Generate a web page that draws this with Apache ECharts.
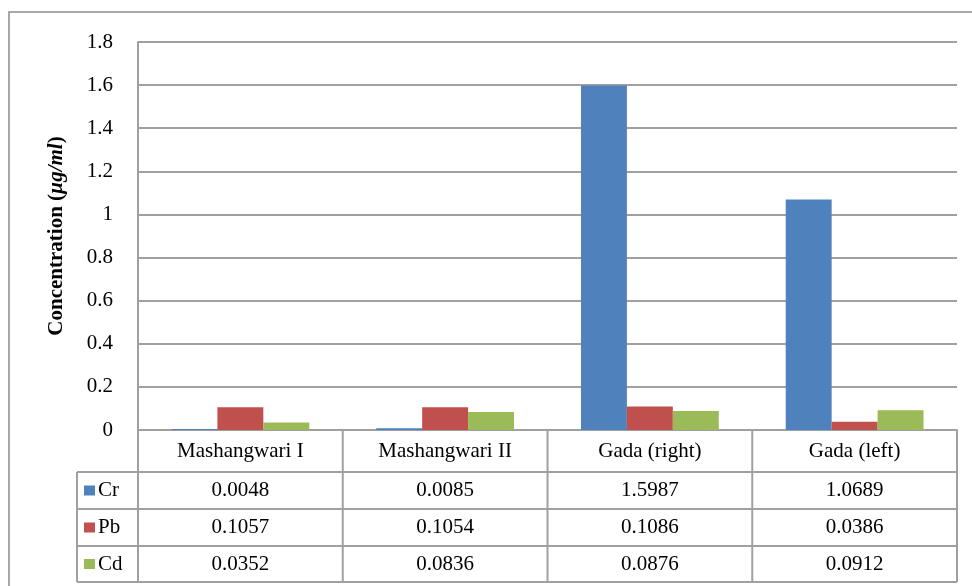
<!DOCTYPE html>
<html>
<head>
<meta charset="utf-8">
<script src="https://cdn.jsdelivr.net/npm/echarts@6/dist/echarts.min.js"></script>
<style>
  html, body { margin: 0; padding: 0; background: #fff; }
  #chart { width: 972px; height: 586px; }
</style>
</head>
<body>
<div id="chart"></div>
<script>
const categories = ['Mashangwari I', 'Mashangwari II', 'Gada (right)', 'Gada (left)'];
const seriesNames = ['Cr', 'Pb', 'Cd'];
const crValues = [0.0048, 0.0085, 1.5987, 1.0689];
const pbValues = [0.1057, 0.1054, 0.1086, 0.0386];
const cdValues = [0.0352, 0.0836, 0.0876, 0.0912];
const yMin = 0, yMax = 1.8, yStep = 0.2;

const colors = ['#4F81BD', '#C0504D', '#9BBB59'];
const allValues = [crValues, pbValues, cdValues];
const font = '"Liberation Serif", "Times New Roman", serif';
const lineColor = '#a0a0a0';

// layout of plot + data table
const plotLeft = 138, plotRight = 957, plotTop = 42, plotBottom = 430;
const legendLeft = 77;
const rowLines = [430, 472, 509, 546, 582];
const colW = (plotRight - plotLeft) / categories.length;

const chart = echarts.init(document.getElementById('chart'));

const graphic = [];
// outer frame
graphic.push({
  type: 'rect', silent: true,
  shape: { x: 9, y: 12, width: 1000, height: 620 },
  style: { fill: 'none', stroke: '#8c8c8c', lineWidth: 1.5 }
});
// horizontal table lines
rowLines.forEach(function (y, i) {
  if (i === 0) return;
  graphic.push({
    type: 'line', silent: true,
    shape: { x1: legendLeft, y1: y, x2: plotRight, y2: y },
    style: { stroke: lineColor, lineWidth: 2 }
  });
});
// vertical table lines
for (let c = 0; c <= categories.length; c++) {
  const x = plotLeft + c * colW;
  graphic.push({
    type: 'line', silent: true,
    shape: { x1: x, y1: rowLines[0], x2: x, y2: rowLines[4] },
    style: { stroke: lineColor, lineWidth: 2 }
  });
}
graphic.push({
  type: 'line', silent: true,
  shape: { x1: legendLeft, y1: rowLines[1], x2: legendLeft, y2: rowLines[4] },
  style: { stroke: lineColor, lineWidth: 2 }
});
// legend keys + values
seriesNames.forEach(function (name, r) {
  const cy = (rowLines[r + 1] + rowLines[r + 2]) / 2;
  graphic.push({
    type: 'rect', silent: true,
    shape: { x: 84, y: cy - 5, width: 11, height: 10 },
    style: { fill: colors[r] }
  });
  graphic.push({
    type: 'text', silent: true, x: 98, y: cy,
    style: { text: name, font: '21px ' + font, fill: '#000', verticalAlign: 'middle' }
  });
  allValues[r].forEach(function (v, c) {
    graphic.push({
      type: 'text', silent: true,
      x: plotLeft + (c + 0.5) * colW, y: cy,
      style: { text: v.toFixed(4), font: '21px ' + font, fill: '#000', align: 'center', verticalAlign: 'middle' }
    });
  });
});

chart.setOption({
  animation: false,
  textStyle: { fontFamily: font },
  grid: { left: plotLeft, right: 972 - plotRight, top: plotTop, bottom: 586 - plotBottom, containLabel: false },
  xAxis: {
    type: 'category',
    data: categories,
    axisLine: { lineStyle: { color: lineColor, width: 2 } },
    axisTick: { show: false },
    axisLabel: { color: '#000', fontSize: 21, fontFamily: font, margin: 11, interval: 0 }
  },
  yAxis: {
    type: 'value',
    min: yMin, max: yMax, interval: yStep,
    name: '{b|Concentration (}{i|µg/ml}{b|)}',
    nameLocation: 'middle',
    nameGap: 71,
    nameRotate: 90,
    nameTextStyle: {
      rich: {
        b: { fontWeight: 'bold', fontSize: 21, fontFamily: font, color: '#000' },
        i: { fontWeight: 'bold', fontStyle: 'italic', fontSize: 21, fontFamily: font, color: '#000' }
      }
    },
    axisLine: { show: true, lineStyle: { color: lineColor, width: 2 } },
    axisTick: { show: false },
    splitLine: { lineStyle: { color: lineColor, width: 2 } },
    axisLabel: { color: '#000', fontSize: 21, fontFamily: font, margin: 25 }
  },
  series: seriesNames.map(function (name, i) {
    return {
      name: name,
      type: 'bar',
      data: allValues[i],
      barGap: '0%',
      barCategoryGap: '32.7%',
      itemStyle: { color: colors[i] }
    };
  }),
  graphic: graphic
});
</script>
</body>
</html>
